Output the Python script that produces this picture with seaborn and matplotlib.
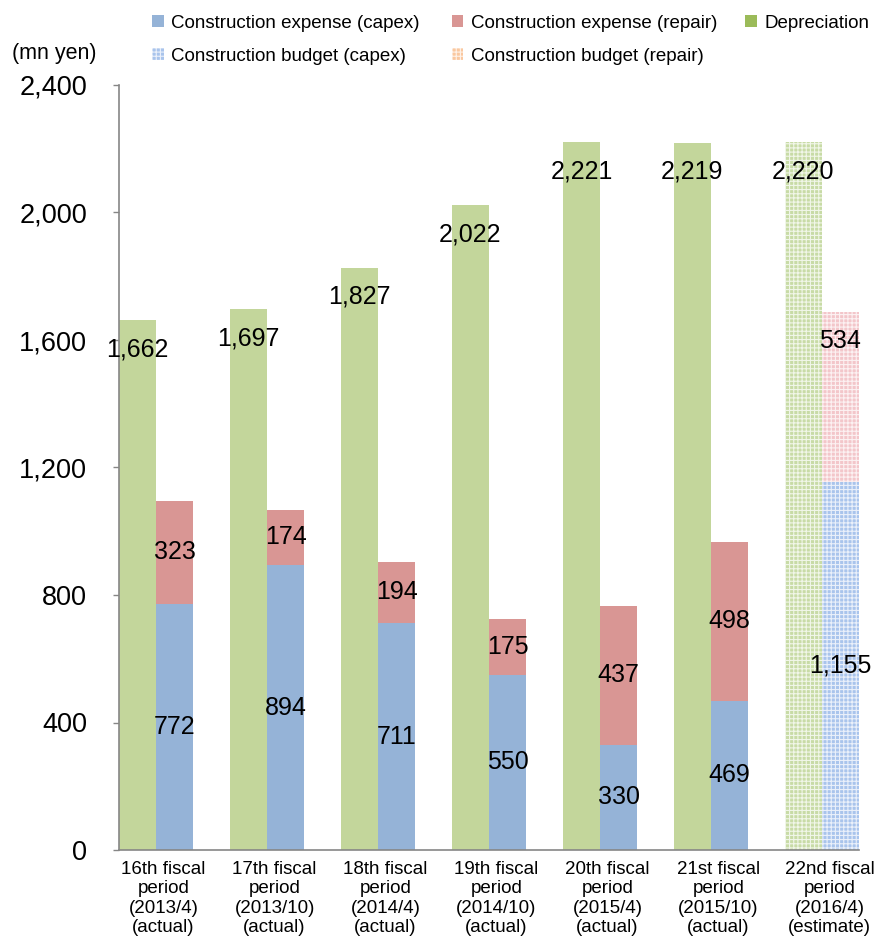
import numpy as np
import pandas as pd
import matplotlib
matplotlib.use("Agg")
import matplotlib.pyplot as plt
import seaborn as sns
from matplotlib.patches import Patch
from matplotlib.colors import to_rgb

# ---------------- data ----------------
periods = [
    "16th fiscal\nperiod\n(2013/4)\n(actual)",
    "17th fiscal\nperiod\n(2013/10)\n(actual)",
    "18th fiscal\nperiod\n(2014/4)\n(actual)",
    "19th fiscal\nperiod\n(2014/10)\n(actual)",
    "20th fiscal\nperiod\n(2015/4)\n(actual)",
    "21st fiscal\nperiod\n(2015/10)\n(actual)",
    "22nd fiscal\nperiod\n(2016/4)\n(estimate)",
]
depreciation = [1662, 1697, 1827, 2022, 2221, 2219, 2220]
capex = [772, 894, 711, 550, 330, 469, 1155]
repair = [323, 174, 194, 175, 437, 498, 534]
is_estimate = [False, False, False, False, False, False, True]
yticks = [0, 400, 800, 1200, 1600, 2000, 2400]
legend_labels = [
    "Construction expense (capex)",
    "Construction budget (capex)",
    "Construction expense (repair)",
    "Construction budget (repair)",
]
legend_label_dep = "Depreciation"

# ---------------- style ----------------
GREEN = "#C3D69B"
RED = "#D99694"
BLUE = "#95B3D7"
GREEN_EST = "#C8DBA6"
PINK_EST = "#F3C6CA"
BLUE_EST = "#A9C4EC"
GREEN_LEG = "#9BBB59"
PEACH_LEG = "#FAC8A0"
AXIS_GRAY = "#868686"

sns.set_style("white")
plt.rcParams["font.family"] = ["Liberation Sans", "DejaVu Sans"]
plt.rcParams["hatch.linewidth"] = 0.8
plt.rcParams["text.color"] = "black"
plt.rcParams["xtick.labelcolor"] = "black"
plt.rcParams["ytick.labelcolor"] = "black"


def blend(c, amt):
    r = np.array(to_rgb(c))
    return tuple(r + (1 - r) * amt)


fig = plt.figure(figsize=(8.76, 9.47), dpi=100)
ax = fig.add_axes([119 / 876, 1 - 850 / 947, 740 / 876, 765 / 947])

n = len(periods)
total = [c + r for c, r in zip(capex, repair)]
hue_order = ["Depreciation", "Construction"]
df_top = pd.DataFrame({
    "period": periods * 2,
    "series": ["Depreciation"] * n + ["Construction"] * n,
    "value": depreciation + total,
})
df_cap = pd.DataFrame({
    "period": periods,
    "series": ["Construction"] * n,
    "value": capex,
})

BW = 0.668
sns.barplot(data=df_top, x="period", y="value", hue="series", hue_order=hue_order,
            order=periods, palette={"Depreciation": GREEN, "Construction": RED},
            width=BW, dodge=True, gap=0, errorbar=None, legend=False,
            saturation=1, linewidth=0, ax=ax)
sns.barplot(data=df_cap, x="period", y="value", hue="series", hue_order=hue_order,
            order=periods, palette={"Depreciation": GREEN, "Construction": BLUE},
            width=BW, dodge=True, gap=0, errorbar=None, legend=False,
            saturation=1, linewidth=0, ax=ax)

# estimate bars: checkered look
est_map = {
    to_rgb(GREEN): GREEN_EST,
    to_rgb(RED): PINK_EST,
    to_rgb(BLUE): BLUE_EST,
}
est_idx = [i for i, e in enumerate(is_estimate) if e]
for p in ax.patches:
    xc = p.get_x() + p.get_width() / 2
    i = int(round(xc))
    if i in est_idx:
        base = tuple(round(v, 4) for v in p.get_facecolor()[:3])
        key = min(est_map, key=lambda k: sum(abs(a - b) for a, b in zip(k, base)))
        p.set_facecolor(est_map[key])
        p.set_edgecolor(blend(est_map[key], 0.75))
        p.set_hatch("++++")
        p.set_linewidth(0)

# ---------------- labels ----------------
off = BW / 4
LFS = 18
for i in range(n):
    ax.annotate(f"{depreciation[i]:,}", (i - off, depreciation[i]), xytext=(0, -21),
                textcoords="offset points", ha="center", va="center", fontsize=LFS)
    ax.text(i + off, capex[i] / 2, f"{capex[i]:,}", ha="center", va="center", fontsize=LFS)
    if is_estimate[i]:
        ax.annotate(f"{repair[i]:,}", (i + off, total[i]), xytext=(0, -21),
                    textcoords="offset points", ha="center", va="center", fontsize=LFS)
    else:
        ax.text(i + off, capex[i] + repair[i] / 2, f"{repair[i]:,}",
                ha="center", va="center", fontsize=LFS)

# ---------------- axes ----------------
ax.set_xlim(-BW / 2, n - 1 + BW / 2)
ax.set_ylim(0, 2400)
ax.set_yticks(yticks)
ax.set_yticklabels([f"{v:,}" for v in yticks], fontsize=19.5)
ax.set_xticks(np.arange(n) + 0.068)
ax.set_xticklabels(periods, fontsize=13.5, linespacing=1.17)
ax.set_xlabel("")
ax.set_ylabel("")
ax.tick_params(axis="y", which="major", length=4, width=1, color=AXIS_GRAY,
               direction="out", pad=19, left=True, labelcolor="black")
ax.tick_params(axis="x", length=0, pad=8, labelcolor="black")
for s in ["top", "right"]:
    ax.spines[s].set_visible(False)
for s in ["left", "bottom"]:
    ax.spines[s].set_color(AXIS_GRAY)
    ax.spines[s].set_linewidth(1.2)
ax.grid(False)

fig.text(54 / 876, 1 - 54 / 947, "(mn yen)", ha="center", va="center", fontsize=15.5)

handles = [
    Patch(facecolor=BLUE, linewidth=0),
    Patch(facecolor=BLUE_EST, edgecolor=blend(BLUE_EST, 0.75), hatch="++++", linewidth=0),
    Patch(facecolor=RED, linewidth=0),
    Patch(facecolor=PEACH_LEG, edgecolor=blend(PEACH_LEG, 0.75), hatch="++++", linewidth=0),
]
leg_kw = dict(loc="upper left", frameon=False, fontsize=13.5,
              handlelength=0.62, handleheight=0.62, handletextpad=0.4,
              labelspacing=0.84, borderpad=0, borderaxespad=0, labelcolor="black")
leg1 = fig.legend(handles, legend_labels, ncol=2, bbox_to_anchor=(152 / 876, 1 - 15 / 947),
                  columnspacing=1.7, **leg_kw)
leg2 = fig.legend([Patch(facecolor=GREEN_LEG, linewidth=0)], [legend_label_dep], ncol=1,
                  bbox_to_anchor=(745 / 876, 1 - 15 / 947), **leg_kw)

fig.savefig("out.png", dpi=100)
